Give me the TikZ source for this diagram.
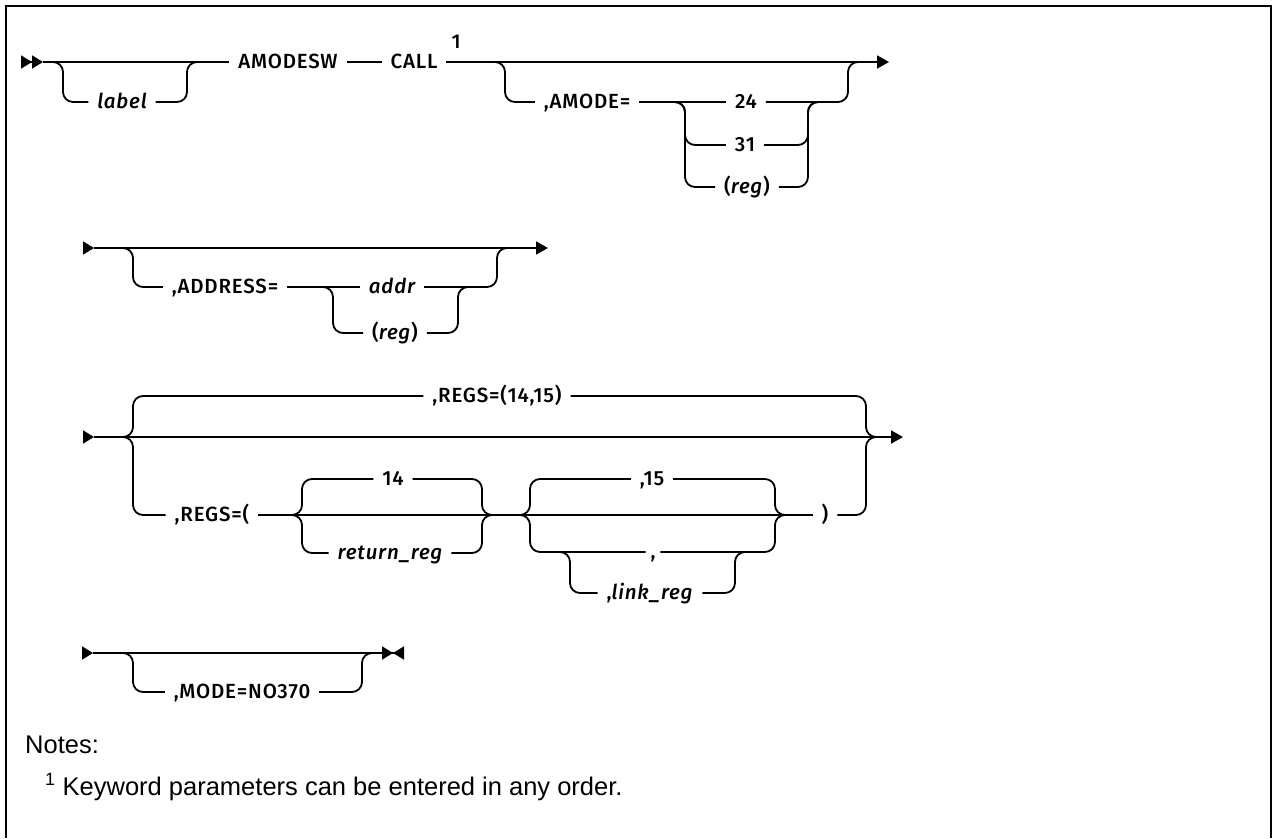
\documentclass[tikz,border=0pt]{standalone}
\usepackage{fontspec}
\setmainfont{Liberation Sans}
\newfontfamily\railfont{Fira Sans}[UprightFont={* Medium}, ItalicFont={* Medium Italic}, LetterSpace=4]
\usetikzlibrary{arrows.meta}

\tikzset{
  rail/.style={line width=1.8pt, rounded corners=10pt},
  kw/.style={font=\railfont\fontsize{20.5}{24}\selectfont, inner xsep=9pt, inner ysep=0pt,
    text height=13.5pt, text depth=0pt, outer sep=0pt},
  var/.style={kw, font=\railfont\fontsize{20.5}{24}\selectfont\itshape},
  note/.style={font=\fontsize{25.5}{30}\selectfont, inner sep=0pt, anchor=base west},
  mk/.tip={Triangle[length=11pt,width=13pt]},
  rmk/.tip={Triangle[length=11pt,width=13pt,reversed]},
  tri/.tip={Triangle[length=12pt,width=13pt]}
}

\begin{document}
\begin{tikzpicture}[x=1pt, y=-1pt]
\useasboundingbox (0,0) rectangle (1274,838);
\draw[line width=2.5pt] (6,838) -- (6,6) -- (1271,6) -- (1271,838);

% first line: label, AMODESW CALL, AMODE=
\coordinate (r1a) at (21,62);
\coordinate (r1b) at (43,62);
\coordinate (r1e) at (889,62);
\coordinate (a1l) at (63,62);
\coordinate (a1r) at (187,62);
\coordinate (a2l) at (505,62);
\coordinate (a2r) at (848,62);
\coordinate (a3l) at (685,102);
\coordinate (a3r) at (808,102);
\node[kw] (amodesw) at (288,62) {AMODESW};
\node[kw] (call) at (414,62) {CALL};
\node[font=\railfont\fontsize{20}{22}\selectfont, inner sep=0pt] (fn1) at (456,42) {1};
\node[var] (lbl) at (122,102) {label};
\node[kw] (amode) at (587,102) {,AMODE=};
\node[kw] (v24) at (746,102) {24};
\node[kw] (v31) at (745,145) {31};
\node[kw] (reg1) at (747,187) {(\textit{reg})};

\draw[rail,-{mk[] mk[]}] (r1a) -- (r1b);
\draw[rail] (r1b) -- (amodesw) -- (call);
\draw[rail,-{tri[]}] (call) -- (r1e);
\draw[rail] ([xshift=-10pt]a1l) -- (a1l) -- (a1l |- lbl) -- (lbl);
\draw[rail] (lbl) -- (a1r |- lbl) -- (a1r) -- ([xshift=10pt]a1r);
\draw[rail] ([xshift=-10pt]a2l) -- (a2l) -- (a2l |- amode) -- (amode);
\draw[rail] (amode) -- (v24);
\draw[rail] (v24) -- (a2r |- v24) -- (a2r) -- ([xshift=10pt]a2r);
\foreach \n in {v31,reg1} {
  \draw[rail] ([xshift=-10pt]a3l) -- (a3l) -- (a3l |- \n) -- (\n);
  \draw[rail] (\n) -- (a3r |- \n) -- (a3r) -- ([xshift=10pt]a3r);
}

% second line: ADDRESS=
\coordinate (r2a) at (83,248);
\coordinate (r2b) at (94,248);
\coordinate (r2e) at (548,248);
\coordinate (b1l) at (133,248);
\coordinate (b1r) at (497,248);
\coordinate (b2l) at (333,287);
\coordinate (b2r) at (458,287);
\node[kw] (address) at (225,287) {,ADDRESS=};
\node[var] (addr) at (392,287) {addr};
\node[kw] (reg2) at (395,333) {(\textit{reg})};

\draw[rail,-{mk[]}] (r2a) -- (r2b);
\draw[rail,-{tri[]}] (r2b) -- (r2e);
\draw[rail] ([xshift=-10pt]b1l) -- (b1l) -- (b1l |- address) -- (address);
\draw[rail] (address) -- (addr);
\draw[rail] (addr) -- (b1r |- addr) -- (b1r) -- ([xshift=10pt]b1r);
\draw[rail] ([xshift=-10pt]b2l) -- (b2l) -- (b2l |- reg2) -- (reg2);
\draw[rail] (reg2) -- (b2r |- reg2) -- (b2r) -- ([xshift=10pt]b2r);

% third line: REGS=
\coordinate (r3a) at (83,437);
\coordinate (r3b) at (94,437);
\coordinate (r3e) at (903,437);
\coordinate (c1l) at (133,437);
\coordinate (c1r) at (866,437);
\coordinate (c2l) at (302,515);
\coordinate (c2r) at (482,515);
\coordinate (c3l) at (530,515);
\coordinate (c3r) at (775,515);
\coordinate (c4l) at (570,552);
\coordinate (c4r) at (735,552);
\node[kw] (regsdef) at (497,396) {,REGS=(14,15)};
\node[kw] (regsopen) at (212,515) {,REGS=(};
\node[kw] (v14) at (393,479) {14};
\node[var] (retreg) at (390,553) {return\_reg};
\node[kw] (v15) at (652,479) {,15};
\node[kw, inner xsep=5pt] (comma) at (653,552) {,};
\node[kw] (linkreg) at (650,593) {,\textit{link\_reg}};
\node[kw] (rparen) at (825,515) {)};

\draw[rail,-{mk[]}] (r3a) -- (r3b);
\draw[rail,-{tri[]}] (r3b) -- (r3e);
\draw[rail] ([xshift=-10pt]c1l) -- (c1l) -- (c1l |- regsdef) -- (regsdef);
\draw[rail] (regsdef) -- (c1r |- regsdef) -- (c1r) -- ([xshift=10pt]c1r);
\draw[rail] ([xshift=-10pt]c1l) -- (c1l) -- (c1l |- regsopen) -- (regsopen);
\draw[rail] (regsopen) -- (rparen);
\draw[rail] (rparen) -- (c1r |- rparen) -- (c1r) -- ([xshift=10pt]c1r);
\foreach \n in {v14,retreg} {
  \draw[rail] ([xshift=-10pt]c2l) -- (c2l) -- (c2l |- \n) -- (\n);
  \draw[rail] (\n) -- (c2r |- \n) -- (c2r) -- ([xshift=10pt]c2r);
}
\foreach \n in {v15,comma} {
  \draw[rail] ([xshift=-10pt]c3l) -- (c3l) -- (c3l |- \n) -- (\n);
  \draw[rail] (\n) -- (c3r |- \n) -- (c3r) -- ([xshift=10pt]c3r);
}
\draw[rail] ([xshift=-10pt]c4l) -- (c4l) -- (c4l |- linkreg) -- (linkreg);
\draw[rail] (linkreg) -- (c4r |- linkreg) -- (c4r) -- ([xshift=10pt]c4r);

% fourth line: MODE=
\coordinate (r4a) at (82,653);
\coordinate (r4b) at (93,653);
\coordinate (r4e) at (404,653);
\coordinate (d1l) at (133,653);
\coordinate (d1r) at (362,653);
\node[kw] (mode) at (242,692) {,MODE=NO370};

\draw[rail,-{mk[]}] (r4a) -- (r4b);
\draw[rail,-{mk[] rmk[]}] (r4b) -- (r4e);
\draw[rail] ([xshift=-10pt]d1l) -- (d1l) -- (d1l |- mode) -- (mode);
\draw[rail] (mode) -- (d1r |- mode) -- (d1r) -- ([xshift=10pt]d1r);

% notes
\node[note] (notes) at (25,753) {Notes:};
\node[note] (note1) at (45,795) {\textsuperscript{1} Keyword parameters can be entered in any order.};
\end{tikzpicture}
\end{document}
